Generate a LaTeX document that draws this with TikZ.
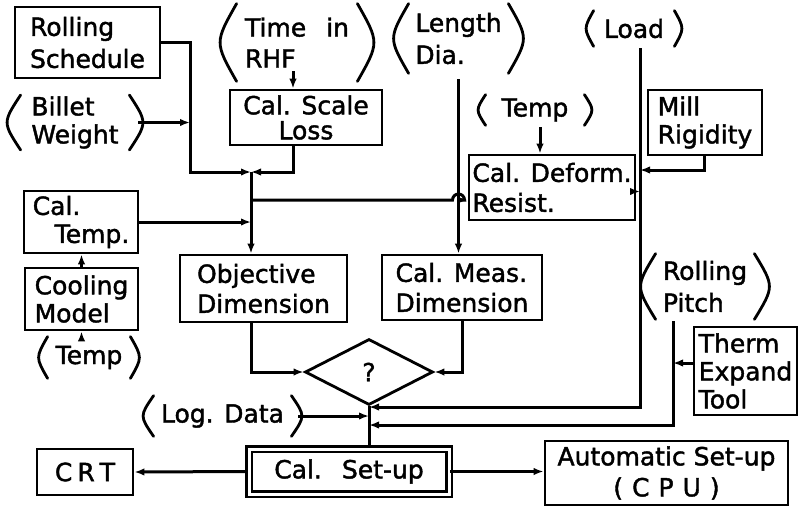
\documentclass[tikz,border=0pt]{standalone}
\usepackage{fontspec}
\setmainfont[FakeBold=1.6]{DejaVu Sans}
\usetikzlibrary{arrows.meta,shapes.geometric,calc}
\newcommand\prn[2]{%
 \draw[pl] ([xshift=#2pt]#1.north west) .. controls ([xshift=-#2pt]#1.west) .. ([xshift=#2pt]#1.south west);
 \draw[pl] ([xshift=-#2pt]#1.north east) .. controls ([xshift=#2pt]#1.east) .. ([xshift=-#2pt]#1.south east);}
\begin{document}
\begin{tikzpicture}[x=1pt,y=-1pt,
  line width=2.8pt,
  conn/.style={line width=3pt},
  arr/.style={conn,-{Latex[length=10pt,width=7.5pt]}},
  pl/.style={line width=2.8pt,line cap=round},
  box/.style={draw,line width=2.8pt,inner sep=0pt,align=left,font=\fontsize{25}{28}\selectfont},
  plabel/.style={inner sep=0pt,align=left,font=\fontsize{25}{28}\selectfont}]
\useasboundingbox (0,0) rectangle (804,507);

% boxes and labels
\node[box,minimum width=145pt,minimum height=71pt,font=\fontsize{25}{32}\selectfont] (rs) at (87.5,42.5) {Rolling\\Schedule};
\node[plabel,minimum width=124pt,minimum height=51pt] (bw) at (75,122.5) {Billet\\Weight};
\node[plabel,minimum width=140pt,minimum height=75pt,font=\fontsize{25}{31}\selectfont] (tir) at (297,42.5) {Time\hspace{20pt}in\\RHF};
\node[box,minimum width=152pt,minimum height=55pt,align=center,font=\fontsize{25}{25}\selectfont] (csl) at (306,117.5) {Cal. Scale\\Loss};
\node[plabel,minimum width=117pt,minimum height=67pt,font=\fontsize{25}{32}\selectfont] (ld) at (458.5,38.5) {Length\\Dia.};
\node[plabel,minimum width=88pt,minimum height=33pt] (load) at (634,28.5) {Load};
\node[plabel,minimum width=106pt,minimum height=28pt] (tt) at (535,110) {Temp};
\node[box,minimum width=166pt,minimum height=65pt,font=\fontsize{25}{30}\selectfont] (cdr) at (552,187.5) {Cal. Deform.\\Resist.};
\node[box,minimum width=114pt,minimum height=65pt] (mr) at (705,122.5) {Mill\\Rigidity};
\node[box,minimum width=114pt,minimum height=62pt] (ct) at (81,222) {Cal.\\\hspace{22pt}Temp.};
\node[box,minimum width=113pt,minimum height=62pt] (cm) at (81.5,299) {Cooling\\Model};
\node[plabel,minimum width=92pt,minimum height=39pt] (tb) at (89,357.5) {Temp};
\node[box,minimum width=167pt,minimum height=67pt,font=\fontsize{25}{30}\selectfont] (od) at (263.5,288.5) {Objective\\Dimension};
\node[box,minimum width=160pt,minimum height=65pt,font=\fontsize{25}{30}\selectfont] (cmd) at (462,287.5) {Cal. Meas.\\Dimension};
\node[plabel,minimum width=116pt,minimum height=63pt,font=\fontsize{25}{32}\selectfont] (rp) at (705,286.5) {Rolling\\Pitch};
\node[box,minimum width=103pt,minimum height=88pt] (tet) at (745.5,371) {Therm\\Expand\\Tool};
\node[diamond,draw,line width=2.8pt,aspect=1.94,minimum width=128pt,minimum height=66pt,inner sep=0pt,font=\fontsize{25}{28}\selectfont] (dm) at (369,372) {?};
\node[plabel,minimum width=149pt,minimum height=38pt] (ldat) at (222.5,416) {Log. Data};
\node[box,minimum width=96pt,minimum height=46pt] (crt) at (85,472) {C\hspace{5pt}R\hspace{5pt}T};
\node[box,line width=2.2pt,double,double distance=3pt,minimum width=200pt,minimum height=45pt] (csu) at (349,471.5) {Cal.\hspace{20pt}Set-up};
\node[box,align=center,minimum width=243pt,minimum height=64pt,font=\fontsize{25}{31}\selectfont] (asu) at (666.5,473) {Automatic Set-up\\(\hspace{9pt}C\hspace{9pt}P\hspace{9pt}U\hspace{9pt})};

% parentheses
\prn{bw}{9}
\prn{tir}{11}
\prn{ld}{10}
\prn{load}{5}
\prn{tt}{5}
\prn{tb}{6}
\prn{rp}{10}
\prn{ldat}{7}

% junction points
\coordinate (j1) at (251,172);
\coordinate (rsx) at (190,172);
\coordinate (j2) at (251,200);
\coordinate (t1) at ($(tir.south)+(-4,-10)$);
\coordinate (t2) at ($(tt.south)+(5,2)$);
\coordinate (lt) at ($(load.south)+(6,2)$);
\coordinate (lb) at (640,407);
\coordinate (c1) at ($(cdr.east)+(0,4)$);
\coordinate (m1) at (704,170);
\coordinate (r1) at ($(rp.south)+(-32,2)$);
\coordinate (r2) at (673,425);
\coordinate (th) at ($(tet.west)+(0,-8)$);

% connectors
\draw[arr] (rs.east) -| (rsx) -- (j1);
\draw[arr] (bw.east) -- (bw.east -| rsx);
\draw[arr] (t1) -- (t1 |- csl.north);
\draw[arr] ([xshift=-13pt]csl.south) |- (j1);
\draw[arr] (j1) -- (j1 |- od.north);
\draw[arr] (j2) -- ($(ld.south|-j2)+(-6,0)$) arc[start angle=180,end angle=360,radius=6] -- (cdr.west |- j2);
\draw[arr] (ct.east) -- (ct.east -| j1);
\draw[arr] (cm.north) -- (cm.north |- ct.south);
\draw[arr] (tb.north -| cm.south) -- (cm.south);
\draw[arr] ($(ld.south)+(0,6)$) -- (ld.south |- cmd.north);
\draw[arr] (t2) -- (t2 |- cdr.north);
\draw[arr] (lt) -- (lb) -- (lb -| dm.south);
\draw[arr] (c1) -- (c1 -| lt);
\draw[arr] (mr.south -| m1) -- (m1) -- (m1 -| lt);
\draw[arr] (j1 |- od.south) |- (dm.west);
\draw[arr] (cmd.south) |- (dm.east);
\draw[conn] (dm.south) -- (dm.south |- csu.north);
\draw[arr] (ldat.east) -- (ldat.east -| dm.south);
\draw[arr] (r1) -- (r2) -- (r2 -| dm.south);
\draw[arr] (th) -- (th -| r1);
\draw[arr] (csu.west) -- (crt.east);
\draw[arr] (csu.east) -- (csu.east -| asu.west);
\end{tikzpicture}
\end{document}
